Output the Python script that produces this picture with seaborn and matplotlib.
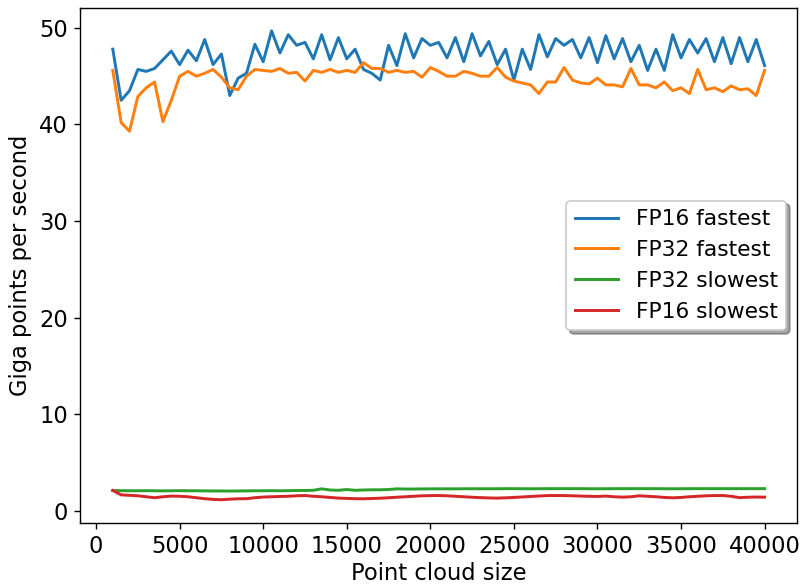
import matplotlib
matplotlib.use("Agg")
import matplotlib.pyplot as plt
import seaborn as sns
import numpy as np
import pandas as pd

sizes = list(range(1000, 40001, 500))

fp16_fastest = [47.8, 42.5, 43.5, 45.7, 45.5, 45.8, 46.7, 47.6, 46.2, 47.7,
                46.6, 48.8, 46.2, 47.3, 43.0, 44.8, 45.3, 48.3, 46.5, 49.7,
                47.4, 49.3, 48.2, 48.5, 46.8, 49.3, 46.7, 49.0, 46.8, 47.8,
                45.7, 45.3, 44.6, 48.2, 46.1, 49.4, 46.9, 48.9, 48.2, 48.5,
                46.9, 49.0, 46.5, 49.4, 47.1, 48.6, 46.2, 47.8, 44.6, 47.8,
                45.7, 49.3, 47.0, 48.9, 48.2, 48.8, 46.9, 49.0, 46.4, 49.2,
                46.8, 48.9, 46.5, 48.2, 45.6, 47.8, 45.6, 49.3, 46.9, 48.8,
                47.4, 48.9, 46.5, 49.0, 46.3, 49.0, 46.5, 48.8, 46.1]

fp32_fastest = [45.6, 40.2, 39.3, 42.9, 43.8, 44.4, 40.3, 42.5, 45.0, 45.5,
                45.0, 45.3, 45.7, 44.9, 43.8, 43.6, 45.0, 45.7, 45.6, 45.5,
                45.8, 45.3, 45.4, 44.5, 45.6, 45.4, 45.7, 45.4, 45.6, 45.4,
                46.4, 45.8, 45.8, 45.4, 45.6, 45.4, 45.5, 44.9, 45.9, 45.5,
                45.0, 45.0, 45.5, 45.3, 45.0, 45.0, 45.9, 44.9, 44.5, 44.3,
                44.1, 43.2, 44.4, 44.4, 45.9, 44.6, 44.3, 44.2, 44.8, 44.1,
                44.1, 43.9, 45.8, 44.1, 44.1, 43.8, 44.4, 43.5, 43.8, 43.2,
                45.7, 43.6, 43.8, 43.4, 44.0, 43.6, 43.7, 43.0, 45.6]

fp32_slowest = [2.10, 2.08, 2.07, 2.07, 2.08, 2.07, 2.06, 2.07, 2.08, 2.07,
                2.07, 2.06, 2.05, 2.05, 2.04, 2.05, 2.06, 2.07, 2.07, 2.08,
                2.07, 2.08, 2.10, 2.10, 2.12, 2.27, 2.15, 2.12, 2.20, 2.12,
                2.15, 2.17, 2.17, 2.20, 2.27, 2.25, 2.25, 2.26, 2.27, 2.27,
                2.27, 2.27, 2.28, 2.28, 2.28, 2.28, 2.28, 2.29, 2.29, 2.28,
                2.28, 2.28, 2.29, 2.29, 2.29, 2.29, 2.29, 2.28, 2.28, 2.28,
                2.29, 2.29, 2.29, 2.29, 2.29, 2.29, 2.28, 2.28, 2.28, 2.29,
                2.29, 2.29, 2.29, 2.29, 2.29, 2.29, 2.29, 2.29, 2.29]

fp16_slowest = [2.10, 1.65, 1.60, 1.55, 1.45, 1.35, 1.45, 1.52, 1.50, 1.45,
                1.35, 1.25, 1.18, 1.14, 1.20, 1.24, 1.25, 1.35, 1.42, 1.45,
                1.48, 1.50, 1.55, 1.58, 1.50, 1.45, 1.38, 1.31, 1.28, 1.25,
                1.24, 1.27, 1.30, 1.35, 1.40, 1.45, 1.50, 1.55, 1.57, 1.58,
                1.55, 1.50, 1.45, 1.40, 1.36, 1.33, 1.31, 1.34, 1.38, 1.43,
                1.48, 1.53, 1.57, 1.58, 1.57, 1.55, 1.52, 1.50, 1.48, 1.52,
                1.45, 1.41, 1.45, 1.55, 1.50, 1.45, 1.38, 1.34, 1.38, 1.45,
                1.50, 1.55, 1.57, 1.58, 1.50, 1.36, 1.40, 1.42, 1.41]

series_names = ["FP16 fastest", "FP32 fastest", "FP32 slowest", "FP16 slowest"]
series_values = [fp16_fastest, fp32_fastest, fp32_slowest, fp16_slowest]
colors = ["#1f77b4", "#ff7f0e", "#2ca02c", "#d62728"]

df = pd.concat([pd.DataFrame({"size": sizes, "value": v, "series": n})
                for n, v in zip(series_names, series_values)], ignore_index=True)

plt.rcParams["font.family"] = ["DejaVu Sans"]
fig = plt.figure(figsize=(802 / 125, 588 / 125), dpi=125)
ax = fig.add_axes([0.1, 0.11, 0.894, 0.877])

sns.lineplot(data=df, x="size", y="value", hue="series", hue_order=series_names,
             palette=colors, ax=ax, linewidth=1.7, legend=True)

ax.set_xlabel("Point cloud size", fontsize=13, labelpad=2)
ax.set_ylabel("Giga points per second", fontsize=13)
ax.tick_params(labelsize=13)
ax.set_xticks([0, 5000, 10000, 15000, 20000, 25000, 30000, 35000, 40000])
ax.set_yticks([0, 10, 20, 30, 40, 50])
ax.set_xlim(-950, 41950)
ax.set_ylim(-1.3, 52.1)

handles, labels = ax.get_legend_handles_labels()
ax.legend(handles, labels, loc="center right", fontsize=12.5, shadow=True, title=None)

fig.savefig("out.png", dpi=125)
